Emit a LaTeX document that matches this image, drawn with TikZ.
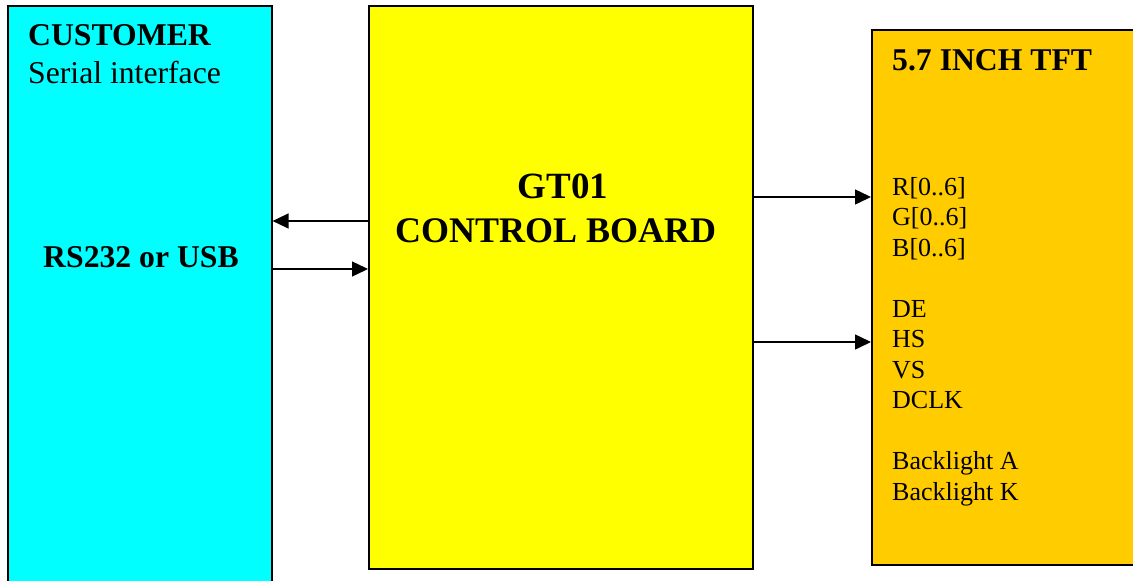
\documentclass[tikz,border=0pt]{standalone}
\usepackage{fontspec}
\setmainfont{Liberation Serif}
\usetikzlibrary{arrows.meta}
\definecolor{custcyan}{HTML}{00FFFF}
\definecolor{ctrlyellow}{HTML}{FFFF00}
\definecolor{tftorange}{HTML}{FFCC00}
\tikzset{
  blockbox/.style={draw=black, line width=1.6pt, rectangle, inner sep=0pt, anchor=north west},
  arr/.style={line width=1.5pt, -{Triangle[length=16pt,width=15pt]}},
  bigtitle/.style={font=\fontsize{31.7}{36}\selectfont\bfseries, inner sep=0pt},
  plainline/.style={font=\fontsize{31.7}{36}\selectfont, inner sep=0pt},
  ctrltitle/.style={font=\fontsize{37}{42}\selectfont\bfseries, inner sep=0pt},
  sig/.style={font=\fontsize{26}{30}\selectfont, inner sep=0pt, anchor=base west},
}
\begin{document}
\begin{tikzpicture}[x=1pt,y=-1pt]
\useasboundingbox (0,0) rectangle (1133,581);
\clip (0,0) rectangle (1133,581);
% blocks
\node[blockbox, fill=custcyan, minimum width=264pt, minimum height=590pt] (cust) at (7,5) {};
\node[blockbox, fill=ctrlyellow, minimum width=384pt, minimum height=563pt] (ctrl) at (368,5) {};
\node[blockbox, fill=tftorange, minimum width=280pt, minimum height=535pt] (tft) at (871,29) {};
% customer texts
\node[bigtitle, anchor=base west] (custtitle) at (28,45) {CUSTOMER};
\node[plainline, anchor=base west] (custsub) at (28,83) {Serial interface};
\node[bigtitle, anchor=base] (custif) at (141,267) {RS232 or USB};
% control board texts
\node[ctrltitle, anchor=base] (ctrl1) at (563,198) {GT01};
\node[ctrltitle, anchor=base west, font=\fontsize{36}{42}\selectfont\bfseries] (ctrl2) at (395,242) {CONTROL BOARD};
% tft texts
\node[bigtitle, anchor=base west] (tfttitle) at (892,70) {5.7 INCH TFT};
\node[sig] (s1) at (892,195) {R[0..6]};
\node[sig] (s2) at (892,225.5) {G[0..6]};
\node[sig] (s3) at (892,256) {B[0..6]};
\node[sig] (s4) at (892,317) {DE};
\node[sig] (s5) at (892,347.5) {HS};
\node[sig] (s6) at (892,378) {VS};
\node[sig] (s7) at (892,408.5) {DCLK};
\node[sig] (s8) at (892,469.5) {Backlight A};
\node[sig] (s9) at (892,500) {Backlight K};
% connector levels
\coordinate (y1) at (0,221);
\coordinate (y2) at (0,269);
\coordinate (y3) at (0,197);
\coordinate (y4) at (0,342);
% connectors
\draw[arr] (ctrl.west |- y1) -- (cust.east |- y1);
\draw[arr] (cust.east |- y2) -- (ctrl.west |- y2);
\draw[arr] (ctrl.east |- y3) -- (tft.west |- y3);
\draw[arr] (ctrl.east |- y4) -- (tft.west |- y4);
\end{tikzpicture}
\end{document}
